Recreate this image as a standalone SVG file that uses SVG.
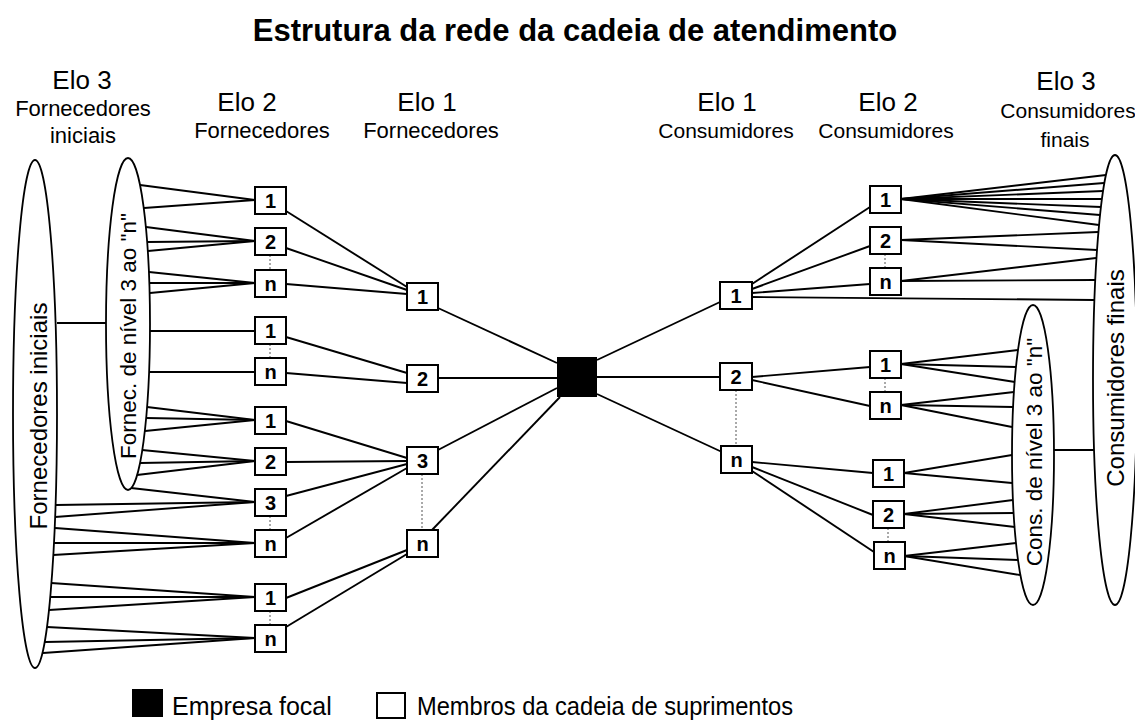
<svg xmlns="http://www.w3.org/2000/svg" width="1135" height="722" viewBox="0 0 1135 722">
<style>
text{font-family:"Liberation Sans",Arial,sans-serif;fill:#000}
.title{font-size:31px;font-weight:bold;text-anchor:middle}
.elo{font-size:26px;text-anchor:middle}
.sub{font-size:22px;text-anchor:middle}
.subc{font-size:21px;text-anchor:middle}
.num{font-size:20px;font-weight:bold;text-anchor:middle}
.rot{font-size:24px;text-anchor:middle}
.rots{font-size:22.5px;text-anchor:middle}
.leg{font-size:25px}
.box{fill:#fff;stroke:#000;stroke-width:2}
.ell{fill:none;stroke:#000;stroke-width:1.8}
#connectors line{stroke:#000;stroke-width:1.9}
#connectors line.dot{stroke:#555;stroke-width:1;stroke-dasharray:2 2}
</style>
<rect width="1135" height="722" fill="#fff"/>
<text class="title" x="575" y="41">Estrutura da rede da cadeia de atendimento</text>
<g id="headers">
<text class="elo" x="82" y="89">Elo 3</text>
<text class="sub" x="83" y="116">Fornecedores</text>
<text class="sub" x="83" y="143">iniciais</text>
<text class="elo" x="247" y="111">Elo 2</text>
<text class="sub" x="262" y="138">Fornecedores</text>
<text class="elo" x="427" y="111">Elo 1</text>
<text class="sub" x="431" y="138">Fornecedores</text>
<text class="elo" x="727" y="111">Elo 1</text>
<text class="subc" x="726" y="138">Consumidores</text>
<text class="elo" x="888" y="111">Elo 2</text>
<text class="subc" x="886" y="138">Consumidores</text>
<text class="elo" x="1066" y="90">Elo 3</text>
<text class="subc" x="1068" y="118">Consumidores</text>
<text class="subc" x="1065" y="147">finais</text>
</g>
<g id="connectors">
<line x1="57" y1="323" x2="106" y2="323"/>
<line x1="1054" y1="450" x2="1094" y2="450"/>
<line x1="140" y1="185" x2="255" y2="200"/>
<line x1="144" y1="208" x2="255" y2="200"/>
<line x1="146" y1="227" x2="255" y2="241"/>
<line x1="147" y1="242" x2="255" y2="241"/>
<line x1="148" y1="251" x2="255" y2="241"/>
<line x1="149" y1="272" x2="255" y2="283"/>
<line x1="149" y1="283" x2="255" y2="283"/>
<line x1="150" y1="293" x2="255" y2="283"/>
<line x1="150" y1="331" x2="255" y2="331"/>
<line x1="149" y1="372" x2="255" y2="372"/>
<line x1="147" y1="407" x2="255" y2="420"/>
<line x1="146" y1="418" x2="255" y2="420"/>
<line x1="145" y1="431" x2="255" y2="420"/>
<line x1="142" y1="450" x2="255" y2="461"/>
<line x1="140" y1="463" x2="255" y2="461"/>
<line x1="137" y1="475" x2="255" y2="461"/>
<line x1="131" y1="488" x2="255" y2="502"/>
<line x1="56" y1="505" x2="255" y2="502"/>
<line x1="55" y1="517" x2="255" y2="502"/>
<line x1="55" y1="528" x2="255" y2="543"/>
<line x1="54" y1="543" x2="255" y2="543"/>
<line x1="53" y1="555" x2="255" y2="543"/>
<line x1="51" y1="583" x2="255" y2="597"/>
<line x1="50" y1="597" x2="255" y2="597"/>
<line x1="49" y1="610" x2="255" y2="597"/>
<line x1="47" y1="627" x2="255" y2="638"/>
<line x1="45" y1="642" x2="255" y2="638"/>
<line x1="43" y1="653" x2="255" y2="638"/>
<line x1="286" y1="211" x2="407" y2="287"/>
<line x1="286" y1="248" x2="407" y2="290"/>
<line x1="286" y1="284" x2="407" y2="294"/>
<line x1="286" y1="337" x2="407" y2="373"/>
<line x1="286" y1="373" x2="407" y2="383"/>
<line x1="286" y1="421" x2="407" y2="458"/>
<line x1="286" y1="462" x2="407" y2="461"/>
<line x1="286" y1="496" x2="407" y2="464"/>
<line x1="286" y1="538" x2="407" y2="468"/>
<line x1="286" y1="598" x2="407" y2="550"/>
<line x1="286" y1="627" x2="407" y2="554"/>
<line x1="438" y1="308" x2="557" y2="363"/>
<line x1="438" y1="378" x2="557" y2="378"/>
<line x1="438" y1="450" x2="557" y2="388"/>
<line x1="432" y1="530" x2="560" y2="397"/>
<line x1="597" y1="360" x2="720" y2="302"/>
<line x1="597" y1="377" x2="720" y2="377"/>
<line x1="597" y1="394" x2="722" y2="452"/>
<line x1="752" y1="284" x2="870" y2="207"/>
<line x1="752" y1="289" x2="870" y2="246"/>
<line x1="752" y1="293" x2="870" y2="284"/>
<line x1="752" y1="297" x2="1094" y2="300"/>
<line x1="752" y1="377" x2="870" y2="367"/>
<line x1="752" y1="380" x2="870" y2="406"/>
<line x1="752" y1="462" x2="873" y2="473"/>
<line x1="752" y1="467" x2="873" y2="515"/>
<line x1="752" y1="471" x2="874" y2="552"/>
<line x1="901" y1="199" x2="1106" y2="175"/>
<line x1="901" y1="199" x2="1104" y2="183"/>
<line x1="901" y1="199" x2="1103" y2="191"/>
<line x1="901" y1="199" x2="1102" y2="199"/>
<line x1="901" y1="199" x2="1101" y2="207"/>
<line x1="901" y1="199" x2="1100" y2="215"/>
<line x1="901" y1="199" x2="1099" y2="225"/>
<line x1="901" y1="240" x2="1098" y2="232"/>
<line x1="901" y1="240" x2="1097" y2="250"/>
<line x1="901" y1="281" x2="1096" y2="258"/>
<line x1="901" y1="281" x2="1095" y2="280"/>
<line x1="901" y1="364" x2="1018" y2="350"/>
<line x1="901" y1="364" x2="1016" y2="367"/>
<line x1="901" y1="364" x2="1015" y2="382"/>
<line x1="901" y1="405" x2="1014" y2="392"/>
<line x1="901" y1="405" x2="1013" y2="407"/>
<line x1="901" y1="405" x2="1012" y2="427"/>
<line x1="904" y1="473" x2="1012" y2="455"/>
<line x1="904" y1="473" x2="1012" y2="483"/>
<line x1="904" y1="514" x2="1013" y2="500"/>
<line x1="904" y1="514" x2="1014" y2="513"/>
<line x1="904" y1="514" x2="1015" y2="527"/>
<line x1="904" y1="556" x2="1016" y2="543"/>
<line x1="904" y1="556" x2="1018" y2="560"/>
<line x1="904" y1="556" x2="1020" y2="575"/>
<line class="dot" x1="270" y1="255" x2="270" y2="270"/>
<line class="dot" x1="270" y1="344" x2="270" y2="358"/>
<line class="dot" x1="270" y1="516" x2="270" y2="530"/>
<line class="dot" x1="270" y1="611" x2="270" y2="625"/>
<line class="dot" x1="422" y1="474" x2="422" y2="530"/>
<line class="dot" x1="736" y1="390" x2="736" y2="446"/>
<line class="dot" x1="885" y1="254" x2="885" y2="268"/>
<line class="dot" x1="885" y1="378" x2="885" y2="392"/>
<line class="dot" x1="888" y1="528" x2="888" y2="542"/>
</g>
<g id="fornecedores-iniciais">
<ellipse class="ell" cx="35" cy="414" rx="22" ry="254"/>
<text class="rot" transform="translate(47,416) rotate(-90)">Fornecedores iniciais</text>
</g>
<g id="fornec-nivel3">
<ellipse class="ell" cx="128" cy="324" rx="22" ry="166"/>
<text class="rots" transform="translate(136,336) rotate(-90)">Fornec. de nível 3 ao "n"</text>
</g>
<g id="consumidores-finais">
<ellipse class="ell" cx="1115" cy="380" rx="22" ry="225"/>
<text class="rot" transform="translate(1124,378) rotate(-90)">Consumidores finais</text>
</g>
<g id="cons-nivel3">
<ellipse class="ell" cx="1033" cy="455" rx="21" ry="150"/>
<text class="rots" transform="translate(1042,452) rotate(-90)">Cons. de nível 3 ao "n"</text>
</g>
<g id="L2a1"><rect class="box" x="255" y="187" width="31" height="27"/><text class="num" x="270.5" y="208">1</text></g>
<g id="L2a2"><rect class="box" x="255" y="228" width="31" height="27"/><text class="num" x="270.5" y="249">2</text></g>
<g id="L2an"><rect class="box" x="255" y="270" width="31" height="27"/><text class="num" x="270.5" y="291">n</text></g>
<g id="L2b1"><rect class="box" x="255" y="317" width="31" height="27"/><text class="num" x="270.5" y="338">1</text></g>
<g id="L2bn"><rect class="box" x="255" y="358" width="31" height="27"/><text class="num" x="270.5" y="379">n</text></g>
<g id="L2c1"><rect class="box" x="255" y="407" width="31" height="27"/><text class="num" x="270.5" y="428">1</text></g>
<g id="L2c2"><rect class="box" x="255" y="448" width="31" height="27"/><text class="num" x="270.5" y="469">2</text></g>
<g id="L2c3"><rect class="box" x="255" y="489" width="31" height="27"/><text class="num" x="270.5" y="510">3</text></g>
<g id="L2cn"><rect class="box" x="255" y="530" width="31" height="27"/><text class="num" x="270.5" y="551">n</text></g>
<g id="L2d1"><rect class="box" x="255" y="584" width="31" height="27"/><text class="num" x="270.5" y="605">1</text></g>
<g id="L2dn"><rect class="box" x="255" y="625" width="31" height="27"/><text class="num" x="270.5" y="646">n</text></g>
<g id="L1_1"><rect class="box" x="407" y="283" width="31" height="27"/><text class="num" x="422.5" y="304">1</text></g>
<g id="L1_2"><rect class="box" x="407" y="365" width="31" height="27"/><text class="num" x="422.5" y="386">2</text></g>
<g id="L1_3"><rect class="box" x="407" y="447" width="31" height="27"/><text class="num" x="422.5" y="468">3</text></g>
<g id="L1_n"><rect class="box" x="407" y="530" width="31" height="27"/><text class="num" x="422.5" y="551">n</text></g>
<g id="focal"><rect x="557" y="357" width="40" height="40" fill="#000"/></g>
<g id="R1_1"><rect class="box" x="720" y="282" width="32" height="27"/><text class="num" x="736" y="303">1</text></g>
<g id="R1_2"><rect class="box" x="720" y="363" width="32" height="27"/><text class="num" x="736" y="384">2</text></g>
<g id="R1_n"><rect class="box" x="721" y="446" width="31" height="27"/><text class="num" x="736.5" y="467">n</text></g>
<g id="R2a1"><rect class="box" x="870" y="186" width="31" height="27"/><text class="num" x="885.5" y="207">1</text></g>
<g id="R2a2"><rect class="box" x="870" y="227" width="31" height="27"/><text class="num" x="885.5" y="248">2</text></g>
<g id="R2an"><rect class="box" x="870" y="268" width="31" height="27"/><text class="num" x="885.5" y="289">n</text></g>
<g id="R2b1"><rect class="box" x="870" y="351" width="31" height="27"/><text class="num" x="885.5" y="372">1</text></g>
<g id="R2bn"><rect class="box" x="870" y="392" width="31" height="27"/><text class="num" x="885.5" y="413">n</text></g>
<g id="R2c1"><rect class="box" x="873" y="460" width="31" height="27"/><text class="num" x="888.5" y="481">1</text></g>
<g id="R2c2"><rect class="box" x="873" y="501" width="31" height="27"/><text class="num" x="888.5" y="522">2</text></g>
<g id="R2cn"><rect class="box" x="874" y="542" width="31" height="27"/><text class="num" x="889.5" y="563">n</text></g>
<g id="legend">
<rect x="132" y="689" width="31" height="28" fill="#000"/>
<text class="leg" x="172" y="715">Empresa focal</text>
<rect x="377" y="693" width="28" height="25" fill="#fff" stroke="#000" stroke-width="2"/>
<text class="leg" x="417" y="715" textLength="376" lengthAdjust="spacingAndGlyphs">Membros da cadeia de suprimentos</text>
</g>
</svg>
